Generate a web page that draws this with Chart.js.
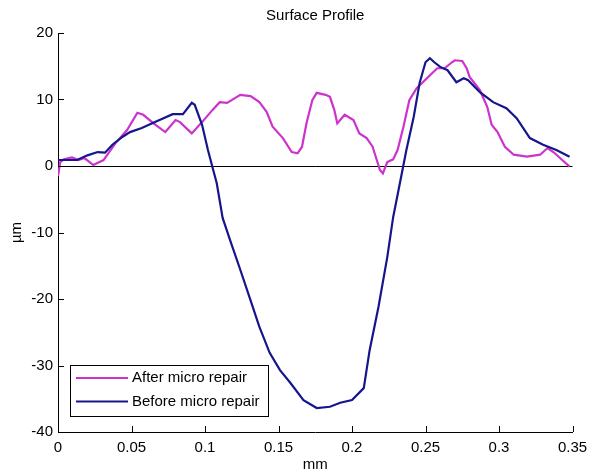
<!DOCTYPE html>
<html>
<head>
<meta charset="utf-8">
<title>Surface Profile</title>
<script src="https://cdn.jsdelivr.net/npm/chart.js@4.4.0/dist/chart.umd.min.js"></script>
<style>
    html, body { margin: 0; padding: 0; background: #fff; }
    #wrap { width: 590px; height: 475px; }
</style>
</head>
<body>
<div id="wrap"><canvas id="profileChart" width="590" height="475"></canvas></div>
<script>
// Profile (mm, µm)
const afterX = [0, 0.0015, 0.004, 0.0095, 0.014, 0.018, 0.024, 0.031, 0.039, 0.047, 0.054, 0.058, 0.065, 0.073, 0.080, 0.083, 0.091, 0.098,
    0.105, 0.110, 0.115, 0.124, 0.131, 0.137, 0.142, 0.146, 0.153, 0.159, 0.163, 0.166, 0.169, 0.173, 0.176, 0.182, 0.185, 0.188, 0.190,
    0.195, 0.201, 0.205, 0.210, 0.214, 0.219, 0.221, 0.224, 0.228, 0.231, 0.235, 0.239, 0.244, 0.251, 0.258, 0.263, 0.268, 0.270, 0.275,
    0.278, 0.280, 0.287, 0.292, 0.295, 0.299, 0.304, 0.310, 0.319, 0.328, 0.333, 0.337, 0.343, 0.348];
const afterY = [-1.5, 0.6, 1.0, 1.3, 0.9, 1.2, 0.15, 0.9, 3.4, 5.4, 8.0, 7.7, 6.4, 5.1, 6.9, 6.6, 4.9, 6.6,
    8.4, 9.6, 9.5, 10.7, 10.5, 9.6, 8.1, 5.9, 4.2, 2.1, 1.9, 2.9, 6.4, 9.9, 11.0, 10.7, 10.4, 8.4, 6.4,
    7.7, 6.9, 4.9, 4.2, 2.9, -0.6, -1.1, 0.6, 1.0, 2.4, 5.9, 9.9, 11.7, 13.2, 14.7, 14.7, 15.6, 15.9, 15.8,
    14.7, 13.4, 11.4, 8.9, 6.2, 5.1, 2.9, 1.7, 1.4, 1.7, 2.7, 2.1, 0.9, -0.1];

const beforeX = [0, 0.005, 0.013, 0.020, 0.027, 0.032, 0.037, 0.044, 0.049, 0.057, 0.066, 0.078, 0.085, 0.091, 0.093, 0.098, 0.102,
    0.105, 0.108, 0.112, 0.117, 0.124, 0.131, 0.137, 0.144, 0.151, 0.158, 0.167, 0.176, 0.185, 0.192, 0.200, 0.208, 0.212, 0.218,
    0.224, 0.228, 0.233, 0.237, 0.242, 0.246, 0.250, 0.253, 0.256, 0.260, 0.265, 0.271, 0.276, 0.279, 0.287, 0.296, 0.305, 0.312,
    0.321, 0.330, 0.339, 0.348];
const beforeY = [0.9, 0.9, 0.9, 1.6, 2.1, 2.0, 3.2, 4.4, 5.1, 5.7, 6.6, 7.8, 7.8, 9.5, 9.2, 6.2, 2.4,
    -0.1, -2.6, -7.8, -11.1, -15.6, -20.2, -24.2, -28.1, -30.7, -32.6, -35.2, -36.4, -36.2, -35.6, -35.2, -33.4, -27.7, -21.2,
    -13.7, -7.7, -2.1, 2.4, 7.4, 12.5, 15.6, 16.2, 15.6, 14.9, 14.4, 12.6, 13.2, 12.9, 11.1, 9.6, 8.7, 7.2,
    4.2, 3.2, 2.4, 1.4];

const seriesLabels = ['After micro repair', 'Before micro repair'];
const xTickValues = [0, 0.05, 0.1, 0.15, 0.2, 0.25, 0.3, 0.35];
const yTickValues = [-40, -30, -20, -10, 0, 10, 20];
const chartTitle = 'Surface Profile';

const FONT = '"Liberation Sans", Arial, sans-serif';
const COLORS = ['#cc33cc', '#16168c'];

function toPoints(xs, ys) {
    return xs.map((x, i) => ({ x: x, y: ys[i] }));
}

// Matlab style extras: title, inward ticks, boxed legend
const matlabPlugin = {
    id: 'matlabStyle',
    afterDraw(chart) {
        const ctx = chart.ctx;
        const area = chart.chartArea;
        const xs = chart.scales.x;
        const ys = chart.scales.y;

        ctx.save();
        ctx.strokeStyle = '#000';
        ctx.lineWidth = 1;
        ctx.beginPath();
        xTickValues.forEach(v => {
            const px = Math.round(xs.getPixelForValue(v)) + 0.5;
            ctx.moveTo(px, area.bottom);
            ctx.lineTo(px, area.bottom - 6);
        });
        yTickValues.forEach(v => {
            const py = Math.round(ys.getPixelForValue(v)) + 0.5;
            ctx.moveTo(area.left, py);
            ctx.lineTo(area.left + 6, py);
        });
        ctx.stroke();

        // title
        ctx.fillStyle = '#000';
        ctx.font = '15px ' + FONT;
        ctx.textAlign = 'center';
        ctx.textBaseline = 'middle';
        ctx.fillText(chartTitle, (area.left + area.right) / 2, 16);

        // legend
        const lx = 70, ly = 365, lw = 198, lh = 51;
        ctx.fillStyle = '#fff';
        ctx.fillRect(lx, ly, lw, lh);
        ctx.strokeStyle = '#000';
        ctx.strokeRect(lx + 0.5, ly + 0.5, lw, lh);
        chart.data.datasets.forEach((ds, i) => {
            const cy = ly + 13 + i * 23.5;
            ctx.strokeStyle = ds.borderColor;
            ctx.lineWidth = 2;
            ctx.beginPath();
            ctx.moveTo(76, cy);
            ctx.lineTo(128, cy);
            ctx.stroke();
            ctx.fillStyle = '#000';
            ctx.textAlign = 'left';
            ctx.fillText(ds.label, 132, cy);
        });
        ctx.restore();
    }
};

function createProfileChart() {
    const canvas = document.getElementById('profileChart');
    const ctx = canvas.getContext('2d');

    new Chart(ctx, {
        type: 'line',
        data: {
            datasets: [
                {
                    label: seriesLabels[0],
                    data: toPoints(afterX, afterY),
                    borderColor: COLORS[0],
                    borderWidth: 2.2,
                    pointRadius: 0,
                    tension: 0,
                    order: 2
                },
                {
                    label: seriesLabels[1],
                    data: toPoints(beforeX, beforeY),
                    borderColor: COLORS[1],
                    borderWidth: 2.2,
                    pointRadius: 0,
                    tension: 0,
                    order: 1
                }
            ]
        },
        options: {
            responsive: false,
            animation: false,
            events: [],
            layout: { padding: { top: 33, right: 17.5, left: 0, bottom: 0 } },
            plugins: {
                legend: { display: false },
                title: { display: false },
                tooltip: { enabled: false }
            },
            scales: {
                x: {
                    type: 'linear',
                    min: 0,
                    max: 0.35,
                    afterBuildTicks: s => { s.ticks = xTickValues.map(v => ({ value: v })); },
                    afterFit: s => { s.height = 43; s.paddingLeft = 0; s.paddingRight = 0; },
                    grid: { display: false, drawTicks: false },
                    border: { display: true, color: '#000', width: 1 },
                    ticks: {
                        padding: 7,
                        color: '#000',
                        font: { family: FONT, size: 15 },
                        maxRotation: 0,
                        callback: v => String(+v.toFixed(2))
                    },
                    title: {
                        display: true,
                        text: 'mm',
                        color: '#000',
                        font: { family: FONT, size: 15 },
                        padding: { top: 0, bottom: 1 }
                    }
                },
                y: {
                    min: -40,
                    max: 20,
                    afterBuildTicks: s => { s.ticks = yTickValues.map(v => ({ value: v })); },
                    afterFit: s => { s.width = 58; },
                    grid: {
                        drawTicks: false,
                        color: c => (c.tick && c.tick.value === 0 ? '#000' : 'rgba(0,0,0,0)'),
                        lineWidth: 1
                    },
                    border: { display: true, color: '#000', width: 1 },
                    ticks: {
                        padding: 5,
                        color: '#000',
                        font: { family: FONT, size: 15 }
                    },
                    title: {
                        display: true,
                        text: 'µm',
                        color: '#000',
                        font: { family: FONT, size: 15 },
                        padding: { top: 8, bottom: 0 }
                    }
                }
            }
        },
        plugins: [matlabPlugin]
    });
}

createProfileChart();
</script>
</body>
</html>
